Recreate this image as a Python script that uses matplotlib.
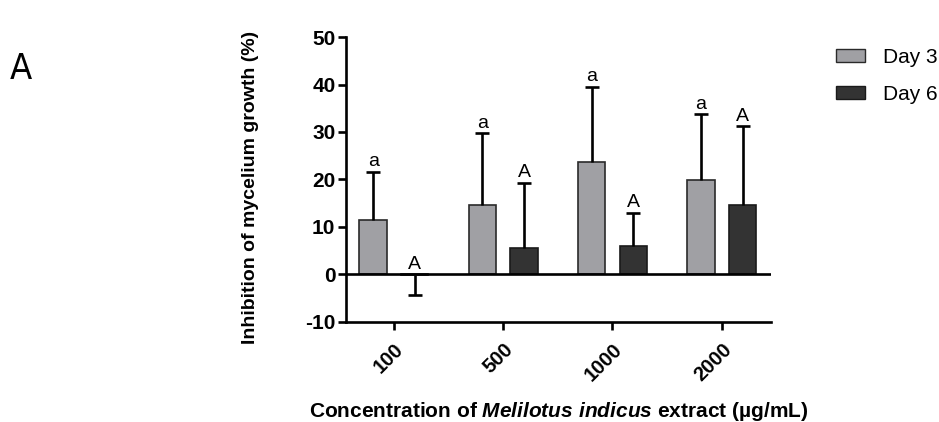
import numpy as np
import matplotlib.pyplot as plt
from matplotlib.patches import Patch

plt.rcParams['font.family'] = ['Liberation Sans', 'DejaVu Sans']
plt.rcParams['axes.unicode_minus'] = False
plt.rcParams['mathtext.fontset'] = 'custom'
plt.rcParams['mathtext.it'] = 'Liberation Sans:italic:bold'
plt.rcParams['mathtext.rm'] = 'Liberation Sans:bold'
plt.rcParams['mathtext.bf'] = 'Liberation Sans:bold'

concs = ['100', '500', '1000', '2000']
day3 = [11.4, 14.6, 23.6, 19.8]
day3_err = [10.2, 15.1, 15.9, 13.9]
day6 = [-0.2, 5.6, 6.0, 14.6]
day6_err = [4.2, 13.7, 7.0, 16.6]
day3_letters = ['a', 'a', 'a', 'a']
day6_letters = ['A', 'A', 'A', 'A']

c3 = '#a0a0a4'
c6 = '#333333'

fig = plt.figure(figsize=(9.39, 4.22), dpi=100)
ax = fig.add_axes([0.369, 0.238, 0.452, 0.674])

x = np.arange(len(concs))
w = 0.25
off = 0.19
cw = 0.064

ax.bar(x - off, day3, w, color=c3, edgecolor='#2a2a2a', linewidth=1.2, zorder=2)
ax.bar(x + off, day6, w, color=c6, edgecolor='#1a1a1a', linewidth=1.2, zorder=2)

# one-sided error bars (away from zero)
for xs, vals, errs in [(x - off, day3, day3_err), (x + off, day6, day6_err)]:
    for xi, v, e in zip(xs, vals, errs):
        end = v + e if v >= 0 else v - e
        ax.vlines(xi, v, end, color='black', lw=1.9, zorder=3)
        ax.hlines(end, xi - cw, xi + cw, color='black', lw=1.9, zorder=3)

ax.axhline(0, color='black', lw=1.9, zorder=4)

for i in range(len(concs)):
    top3 = day3[i] + day3_err[i]
    ax.text(x[i] - off, top3 + 0.3, day3_letters[i], ha='center', va='bottom', fontsize=14)
    top6 = day6[i] + day6_err[i] if day6[i] >= 0 else 0
    ax.text(x[i] + off, top6 + 0.3, day6_letters[i], ha='center', va='bottom', fontsize=14)

ax.set_xlim(-0.434, 3.45)
ax.set_ylim(-10, 50)
ax.set_yticks([-10, 0, 10, 20, 30, 40, 50])
ax.set_xticks(x)
ax.set_xticklabels(concs, rotation=45, ha='right', rotation_mode='anchor',
                   fontweight='bold', fontsize=14.5)
for lab in ax.get_yticklabels():
    lab.set_fontweight('bold')
    lab.set_fontsize(15)

for s in ['top', 'right']:
    ax.spines[s].set_visible(False)
for s in ['left', 'bottom']:
    ax.spines[s].set_linewidth(1.9)
ax.tick_params(axis='both', width=1.9, length=6, pad=2)
ax.tick_params(axis='x', pad=7)

ax.set_ylabel('Inhibition of mycelium growth (%)', fontweight='bold', fontsize=14)
ax.yaxis.set_label_coords(-0.207, 0.47)
ax.set_xlabel('Concentration of $\\mathit{Melilotus\\ indicus}$ extract (\u00b5g/mL)',
              fontweight='bold', fontsize=15)
ax.xaxis.set_label_coords(0.5, -0.275)

handles = [Patch(facecolor=c3, edgecolor='#2a2a2a', label='Day 3'),
           Patch(facecolor=c6, edgecolor='#1a1a1a', label='Day 6')]
fig.legend(handles=handles, loc='upper left', bbox_to_anchor=(0.89, 0.886), frameon=False,
           fontsize=15, handlelength=1.4, handleheight=0.55, labelspacing=0.85,
           handletextpad=0.85, borderaxespad=0, borderpad=0)

fig.text(0.010, 0.812, 'A', fontsize=26, family='DejaVu Sans', fontstretch='condensed',
         fontweight='medium')

fig.savefig('out.png', dpi=100)
